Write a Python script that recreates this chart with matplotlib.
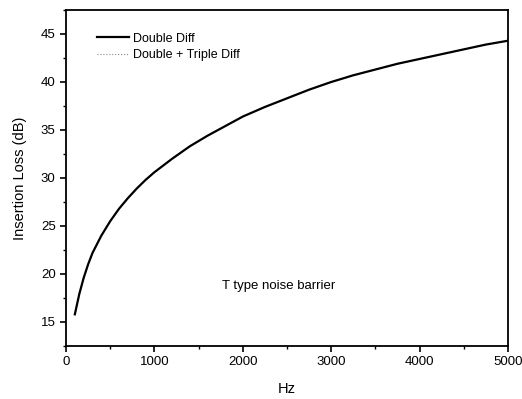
import matplotlib
matplotlib.use("Agg")
import matplotlib.pyplot as plt
from matplotlib.ticker import MultipleLocator

plt.rcParams['font.family'] = ['Liberation Sans', 'DejaVu Sans']

freq_hz = [100, 150, 200, 250, 300, 400, 500, 600, 700, 800, 900, 1000, 1200, 1400, 1600, 1800,
           2000, 2250, 2500, 2750, 3000, 3250, 3500, 3750, 4000, 4250, 4500, 4750, 5000]
double_diff = [15.8, 17.9, 19.6, 21.0, 22.2, 24.0, 25.5, 26.8, 27.9, 28.9, 29.8, 30.6, 32.0, 33.3,
               34.4, 35.4, 36.4, 37.4, 38.3, 39.2, 40.0, 40.7, 41.3, 41.9, 42.4, 42.9, 43.4, 43.9, 44.3]
double_triple_diff = [15.8, 17.9, 19.6, 21.0, 22.2, 24.0, 25.5, 26.8, 27.9, 28.9, 29.8, 30.6, 32.0, 33.3,
                      34.4, 35.4, 36.4, 37.4, 38.3, 39.2, 40.0, 40.7, 41.3, 41.9, 42.4, 42.9, 43.4, 43.9, 44.3]

fig = plt.figure(figsize=(5.22, 3.99), dpi=100)
ax = fig.add_axes([66/522, 1 - 346/399, (508-66)/522, (346-10)/399])

ax.plot(freq_hz, double_triple_diff, color='#888888', linestyle=':', linewidth=0.8,
        label='Double + Triple Diff', zorder=2)
ax.plot(freq_hz, double_diff, color='black', linestyle='-', linewidth=1.6,
        label='Double Diff', zorder=3)

ax.set_xlim(0, 5000)
ax.set_ylim(12.5, 47.5)
ax.xaxis.set_major_locator(MultipleLocator(1000))
ax.xaxis.set_minor_locator(MultipleLocator(500))
ax.yaxis.set_major_locator(MultipleLocator(5))
ax.yaxis.set_minor_locator(MultipleLocator(2.5))
ax.tick_params(which='major', direction='out', length=4, width=1.2, labelsize=9.5)
ax.tick_params(which='minor', direction='out', length=2.5, width=1)
for s in ax.spines.values():
    s.set_linewidth(1.3)

ax.set_xlabel('Hz', fontsize=10.5, labelpad=10)
ax.set_ylabel('Insertion Loss (dB)', fontsize=10.5, labelpad=10)

handles, labels = ax.get_legend_handles_labels()
ax.legend(handles[::-1], labels[::-1], loc='upper left', frameon=False, fontsize=9,
          handlelength=2.6, handletextpad=0.35, borderaxespad=0.6,
          bbox_to_anchor=(0.041, 0.97), labelspacing=0.35)

ax.text(2400, 18.7, 'T type noise barrier', ha='center', va='center', fontsize=9.5)

fig.savefig('out.png', dpi=100)
